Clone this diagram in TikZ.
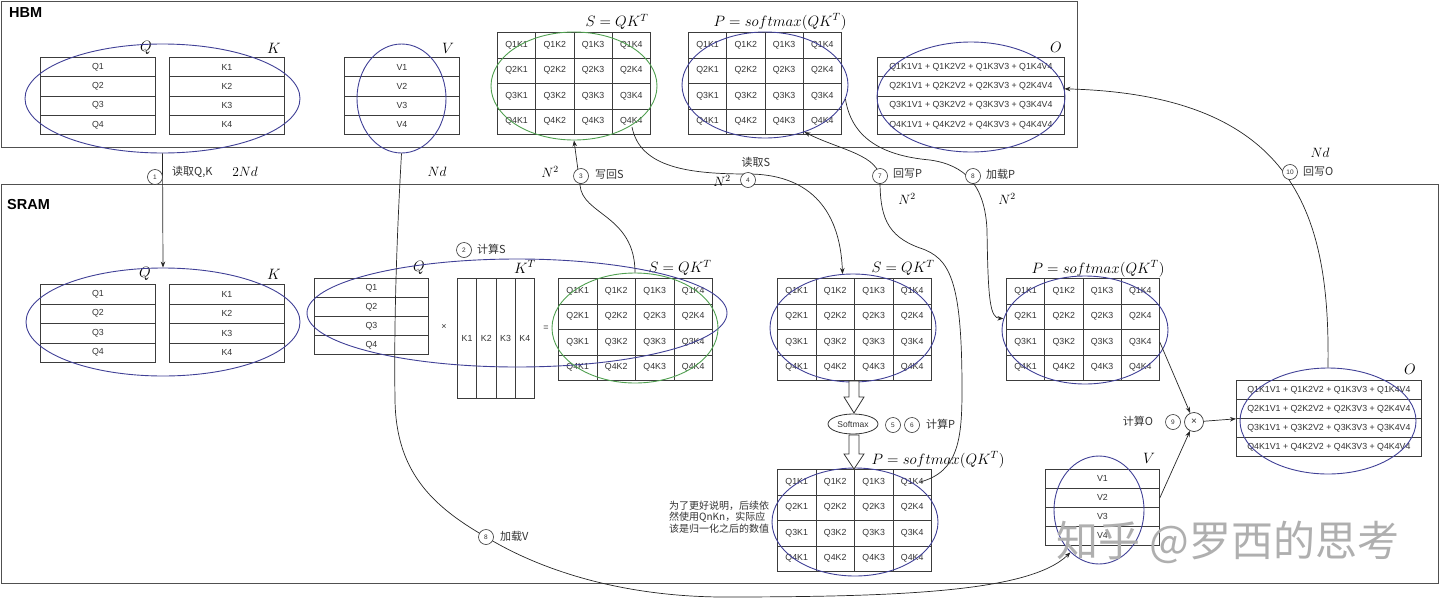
\RequirePackage{fix-cm}
\documentclass[tikz,border=0pt]{standalone}
\usepackage{fontspec}
\setsansfont{Liberation Sans}
\newfontfamily\cjk{Noto Sans CJK SC}
\usetikzlibrary{arrows.meta,shapes.geometric}
\definecolor{ellb}{RGB}{64,64,150}
\definecolor{ellg}{RGB}{80,160,80}
\definecolor{tabc}{RGB}{60,60,60}
\definecolor{txtc}{RGB}{50,50,50}
\definecolor{boxc}{RGB}{80,80,80}
\definecolor{wmc}{RGB}{175,175,175}

\newcommand\rowtab[6]{%
  \foreach \lbl [count=\ix] in {#6}{%
    \node[cell, minimum width=#4, minimum height=#5, anchor=north west] (#1\ix) at ({#2},{#3+(\ix-1)*#5}) {\lbl};}}
\newcommand\mymat[5]{%
  \foreach \ri in {1,...,4}{\foreach \ci in {1,...,4}{%
    \node[cell, minimum width=#4, minimum height=#5, anchor=north west] (#1\ri\ci) at ({#2+(\ci-1)*#4},{#3+(\ri-1)*#5}) {Q\ri K\ci};}}}

\begin{document}
\begin{tikzpicture}[x=1pt,y=-1pt,
  cell/.style={draw=tabc, line width=0.8pt, inner sep=0pt, text=txtc, font=\sffamily\fontsize{8.8}{10}\selectfont},
  ell/.style={ellipse, draw=ellb, line width=0.9pt, inner sep=0pt},
  ellgr/.style={ellipse, draw=ellg, line width=0.9pt, inner sep=0pt},
  region/.style={draw=boxc, line width=1pt, inner sep=0pt, anchor=north west},
  conn/.style={draw=black!85, line width=0.7pt, -{Stealth[length=6pt,width=4.5pt]}},
  plain/.style={draw=black!85, line width=0.7pt},
  cnum/.style={circle, draw=black!80, fill=white, minimum size=15pt, inner sep=0pt, line width=0.6pt, text=txtc, font=\sffamily\fontsize{6.5}{7}\selectfont},
  zh/.style={font=\cjk\fontsize{11}{12}\selectfont, text=txtc, anchor=west, inner sep=0pt},
  mlab/.style={font=\fontsize{15}{15}\selectfont, inner sep=0pt},
  nlab/.style={font=\fontsize{13.5}{14}\selectfont, inner sep=0pt},
  blk/.style={draw=black!80, fill=white, line width=0.8pt},
  ttl/.style={font=\sffamily\bfseries\fontsize{14.5}{15}\selectfont, anchor=west, inner sep=0pt}
]
\useasboundingbox (0,0) rectangle (1440,600);

% regions
\node[region, minimum width=1076, minimum height=146] (hbm) at (1,1) {};
\node[region, minimum width=1437, minimum height=399] (sram) at (1,184) {};
\node[ttl] (hbmL) at (9,13) {HBM};
\node[ttl] (sramL) at (7,205) {SRAM};

% ---------------- HBM tables
\rowtab{hQ}{40}{57}{115}{19.25}{Q1,Q2,Q3,Q4}
\rowtab{hK}{169}{57}{115}{19.25}{K1,K2,K3,K4}
\rowtab{hV}{344}{57}{115}{19.25}{V1,V2,V3,V4}
\mymat{hS}{497}{32}{38.25}{25.5}
\mymat{hP}{688}{32}{38.25}{25.5}
\rowtab{hO}{877}{57}{187}{19.25}{Q1K1V1 + Q1K2V2 + Q1K3V3 + Q1K4V4,Q2K1V1 + Q2K2V2 + Q2K3V3 + Q2K4V4,Q3K1V1 + Q3K2V2 + Q3K3V3 + Q3K4V4,Q4K1V1 + Q4K2V2 + Q4K3V3 + Q4K4V4}

\node[mlab] (lhQ) at (146,48) {$Q$};
\node[mlab] (lhK) at (274,48) {$K$};
\node[mlab] (lhV) at (448,48) {$V$};
\node[mlab] (lhS) at (617,22) {$S=QK^T$};
\node[mlab] (lhP) at (780,22) {$P=softmax(QK^T)$};
\node[mlab] (lhO) at (1056,47) {$O$};

% ---------------- SRAM tables
\rowtab{sQ}{40}{284}{115}{19.5}{Q1,Q2,Q3,Q4}
\rowtab{sK}{169}{284}{115}{19.5}{K1,K2,K3,K4}
\rowtab{sQt}{314}{278}{114}{19}{Q1,Q2,Q3,Q4}
\foreach \lbl [count=\ix] in {K1,K2,K3,K4}{%
  \node[cell, minimum width=19.25, minimum height=120, anchor=north west] (sKT\ix) at ({457+(\ix-1)*19.25},278) {\lbl};}
\mymat{sSa}{558}{278}{38.5}{25.5}
\mymat{sSb}{777}{278}{38.5}{25.5}
\mymat{sPm}{1006}{278}{38.25}{25.5}
\mymat{sPb}{777}{469}{38.5}{25.5}
\rowtab{sO}{1236}{380}{185}{19}{Q1K1V1 + Q1K2V2 + Q1K3V3 + Q1K4V4,Q2K1V1 + Q2K2V2 + Q2K3V3 + Q2K4V4,Q3K1V1 + Q3K2V2 + Q3K3V3 + Q3K4V4,Q4K1V1 + Q4K2V2 + Q4K3V3 + Q4K4V4}
\rowtab{sV}{1045}{469}{114}{19}{V1,V2,V3,V4}

\node[mlab] (lsQ) at (145,274) {$Q$};
\node[mlab] (lsK) at (274,274) {$K$};
\node[mlab] (lsQt) at (419,268) {$Q$};
\node[mlab] (lsKT) at (525,267) {$K^T$};
\node[mlab] (lsSa) at (680,268) {$S=QK^T$};
\node[mlab] (lsSb) at (903,268) {$S=QK^T$};
\node[mlab] (lsPm) at (1098,269) {$P=softmax(QK^T)$};
\node[mlab] (lsPb) at (938,460) {$P=softmax(QK^T)$};
\node[mlab] (lsO) at (1410,369) {$O$};
\node[mlab] (lsV) at (1149,458) {$V$};
\node[font=\sffamily\fontsize{9}{10}\selectfont, text=txtc] (times) at (444,327) {×};
\node[font=\sffamily\fontsize{9}{10}\selectfont, text=txtc] (eq) at (546,328) {=};

% ---------------- ellipses
\node[ell, minimum width=275, minimum height=109] (hQKE) at (162.5,98.5) {};
\node[ell, minimum width=89, minimum height=109] (hVE) at (401.5,98.5) {};
\node[ellgr, minimum width=166, minimum height=108] (hSE) at (574,86) {};
\node[ell, minimum width=166, minimum height=106] (hPE) at (765,85) {};
\node[ell, minimum width=188, minimum height=110] (hOE) at (971,97) {};
\node[ell, minimum width=274, minimum height=108] (sQKE) at (163,322) {};
\node[ell, minimum width=420, minimum height=108] (bigE) at (517,313) {};
\node[ellgr, minimum width=166, minimum height=110] (sSaE) at (635,328) {};
\node[ell, minimum width=166, minimum height=108] (sSbE) at (853,328) {};
\node[ell, minimum width=166, minimum height=108] (sPmE) at (1085,330) {};
\node[ell, minimum width=166, minimum height=108] (sPbE) at (855,522) {};
\node[ell, minimum width=176, minimum height=106] (sOE) at (1328,421) {};
\node[ell, minimum width=90, minimum height=108] (sVE) at (1099,510) {};

% softmax and block arrows
\node[ellipse, draw=black!80, line width=0.8pt, minimum width=50, minimum height=20, inner sep=0pt, text=txtc, font=\sffamily\fontsize{8.5}{9}\selectfont] (smx) at (853,424) {Softmax};
\draw[blk] (849,381) -- (849,397) -- (844,397) -- (854,413) -- (864,397) -- (859,397) -- (859,381) -- cycle;
\draw[blk] (849,435) -- (849,454) -- (844,454) -- (854,469) -- (864,454) -- (859,454) -- (859,435) -- cycle;

% multiply node
\node[circle, draw=black!80, line width=0.7pt, minimum size=19pt, inner sep=0pt, text=txtc, font=\sffamily\fontsize{10}{10}\selectfont] (xn) at (1194,422) {×};

% ---------------- connectors
\coordinate (c4s) at (632,127);
\coordinate (c7s) at (920,482);
\draw[conn] (hQKE.south) -- (sQKE.north);
\draw[conn] (sSaE.north) .. controls (635,215) and (582,215) .. (580,185) -- (hSE.south);
\draw[conn] (c4s) .. controls (640,168) and (690,174) .. (748,174) .. controls (805,174) and (840,205) .. (sSbE.101);
\draw[conn] (c7s) .. controls (958,472) and (962,440) .. (962,390) .. controls (962,280) and (950,258) .. (920,248) .. controls (886,236) and (880,215) .. (880,180) .. controls (880,155) and (840,150) .. (hPE.-50);
\draw[conn] (hPE.-10) .. controls (852,140) and (885,156) .. (930,160) .. controls (965,165) and (985,185) .. (987,230) .. controls (988,300) and (990,318) .. (sPmE.172);
\draw[conn] (sOE.north) .. controls (1330,220) and (1300,95) .. (hOE.5);
\draw[conn] (hVE.south) .. controls (396,250) and (394,330) .. (395,400) .. controls (396,470) and (430,505) .. (486,537) .. controls (540,570) and (620,596) .. (720,597) .. controls (900,597) and (1030,592) .. (sVE.236);
\draw[conn] (sPm34.east) -- (xn);
\draw[conn] (sV2.east) -- (xn);
\draw[conn] (xn) -- (sO2.south west);

% ---------------- step numbers and labels
\node[cnum] (n1) at (155,177) {1};
\node[zh] (t1) at (172,172) {读取Q,K};
\node[nlab] (v1) at (245,172) {$2Nd$};
\node[nlab] (v2) at (437,172) {$Nd$};
\node[nlab] (v3) at (550,172) {$N^2$};
\node[cnum] (n3) at (581,176) {3};
\node[zh] (t3) at (595,175) {写回S};
\node[nlab] (v4) at (722,181) {$N^2$};
\node[cnum] (n4) at (748,180) {4};
\node[zh, anchor=center] (t4) at (756,162) {读取S};
\node[cnum] (n7) at (880,176) {7};
\node[zh] (t7) at (893,174) {回写P};
\node[nlab] (v7) at (907,199) {$N^2$};
\node[cnum] (n8) at (973,176) {8};
\node[zh] (t8) at (986,174) {加载P};
\node[nlab] (v8) at (1007,199) {$N^2$};
\node[nlab] (v10) at (1320,153) {$Nd$};
\node[cnum] (n10) at (1290,172) {10};
\node[zh] (t10) at (1303,172) {回写O};
\node[cnum] (n2) at (464,250) {2};
\node[zh] (t2) at (477,249) {计算S};
\node[cnum] (n5) at (893,425) {5};
\node[cnum] (n6) at (912,425) {6};
\node[zh] (t6) at (926,424) {计算P};
\node[cnum] (n9) at (1173,422) {9};
\node[zh, anchor=center] (t9) at (1138,421) {计算O};
\node[cnum] (n8b) at (486,537) {8};
\node[zh] (t8b) at (500,536) {加载V};
\node[font=\cjk\fontsize{10}{11.5}\selectfont, text=txtc, align=left, anchor=west, inner sep=0pt] (note) at (669,517) {为了更好说明，后续依\\然使用QnKn，实际应\\该是归一化之后的数值};

% watermark
\node[font=\cjk\fontsize{42}{42}\selectfont, text=wmc, inner sep=0pt] (wm) at (1228,542) {知乎 @罗西的思考};
\end{tikzpicture}
\end{document}
